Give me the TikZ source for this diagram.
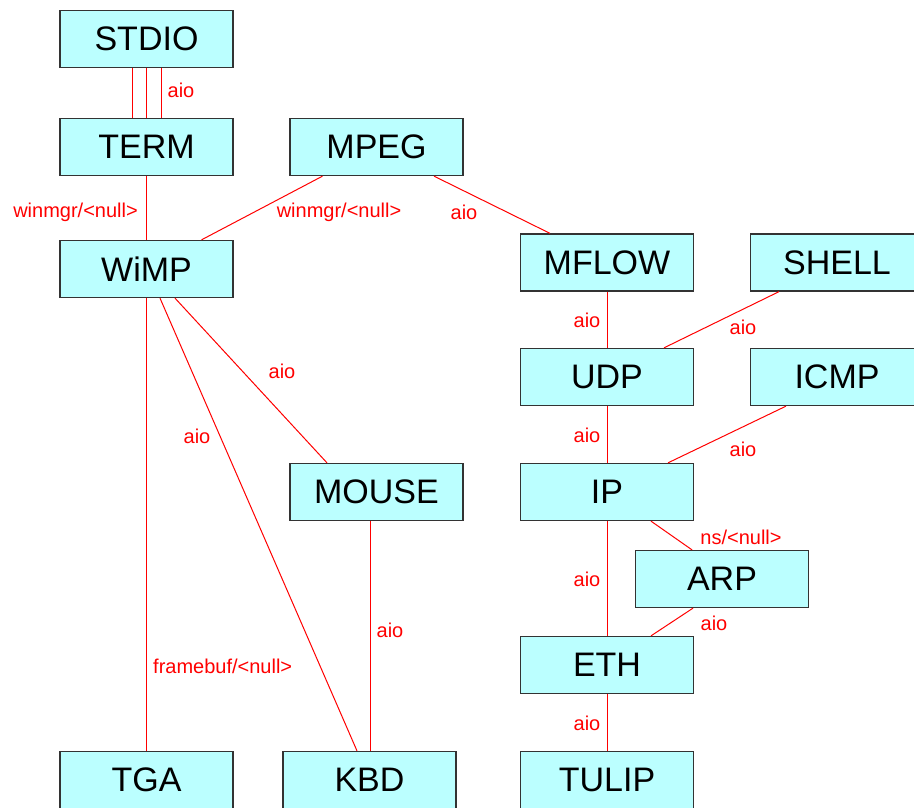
\documentclass[tikz,border=0pt]{standalone}
\usepackage{fontspec}
\setmainfont{Liberation Sans}
\definecolor{boxfill}{RGB}{187,255,255}
\definecolor{boxline}{RGB}{51,51,51}
\tikzset{
  module/.style={draw=boxline, fill=boxfill, line width=1.3pt, minimum width=173pt,
    minimum height=57pt, inner sep=0pt, font=\fontsize{34}{36}\selectfont},
  link/.style={draw=red, line width=1pt},
  lbl/.style={text=red, inner sep=0pt, font=\fontsize{20}{22}\selectfont}
}
\begin{document}
\begin{tikzpicture}[x=1pt,y=-1pt]
          \useasboundingbox (0,0) rectangle (914,808);

          % modules
          \node[module] (stdio) at (146.5,39) {STDIO};
          \node[module] (term)  at (146.5,147) {TERM};
          \node[module] (mpeg)  at (376.5,147) {MPEG};
          \node[module] (wimp)  at (146.5,269) {WiMP};
          \node[module] (mflow) at (607,262.5) {MFLOW};
          \node[module] (shell) at (837,262.5) {SHELL};
          \node[module] (udp)   at (607,377) {UDP};
          \node[module] (icmp)  at (837,377) {ICMP};
          \node[module] (mouse) at (376.5,492) {MOUSE};
          \node[module] (ip)    at (607,492) {IP};
          \node[module] (arp)   at (722,579) {ARP};
          \node[module] (eth)   at (607,665) {ETH};
          \node[module] (tga)   at (146.5,780) {TGA};
          \node[module] (kbd)   at (369.5,780) {KBD};
          \node[module] (tulip) at (607,780) {TULIP};

          % links
          \draw[link] ([xshift=-14.5pt]stdio.south) -- ([xshift=-14.5pt]term.north);
          \draw[link] (stdio.south) -- (term.north);
          \draw[link] ([xshift=14.5pt]stdio.south) -- ([xshift=14.5pt]term.north);
          \draw[link] (term.south) -- (wimp.north);
          \draw[link] ([xshift=-54pt]mpeg.south) -- ([xshift=55pt]wimp.north);
          \draw[link] ([xshift=57.5pt]mpeg.south) -- ([xshift=-57pt]mflow.north);
          \draw[link] (mflow.south) -- (udp.north);
          \draw[link] ([xshift=-58pt]shell.south) -- ([xshift=57pt]udp.north);
          \draw[link] (udp.south) -- (ip.north);
          \draw[link] ([xshift=-51pt]icmp.south) -- ([xshift=61pt]ip.north);
          \draw[link] ([xshift=44pt]ip.south) -- ([xshift=-30pt]arp.north);
          \draw[link] (ip.south) -- (eth.north);
          \draw[link] ([xshift=-29pt]arp.south) -- ([xshift=44pt]eth.north);
          \draw[link] (eth.south) -- (tulip.north);
          \draw[link] ([xshift=28.5pt]wimp.south) -- ([xshift=-49.5pt]mouse.north);
          \draw[link] ([xshift=13.5pt]wimp.south) -- ([xshift=-12.5pt]kbd.north);
          \draw[link] (wimp.south) -- (tga.north);
          \draw[link] ([xshift=-6.5pt]mouse.south) -- ([xshift=0.5pt]kbd.north);

          % labels
          \node[lbl] (l-stdio) at (181,90) {aio};
          \node[lbl, anchor=east] (l-term) at (138,212) {winmgr/<null>};
          \node[lbl] (l-mpeg1) at (339,212) {winmgr/<null>};
          \node[lbl] (l-mpeg2) at (464,212) {aio};
          \node[lbl] (l-mflow) at (587,320) {aio};
          \node[lbl] (l-shell) at (743,327) {aio};
          \node[lbl] (l-udp)   at (587,435) {aio};
          \node[lbl] (l-icmp)  at (743,449) {aio};
          \node[lbl] (l-arp1)  at (741,537) {ns/<null>};
          \node[lbl] (l-ip)    at (587,579) {aio};
          \node[lbl] (l-arp2)  at (714,623) {aio};
          \node[lbl] (l-eth)   at (587,723) {aio};
          \node[lbl] (l-mouse) at (282,371) {aio};
          \node[lbl] (l-kbd)   at (197,436) {aio};
          \node[lbl, anchor=west] (l-tga) at (153,666) {framebuf/<null>};
          \node[lbl] (l-mkbd)  at (390,630) {aio};

          \end{tikzpicture}
\end{document}
